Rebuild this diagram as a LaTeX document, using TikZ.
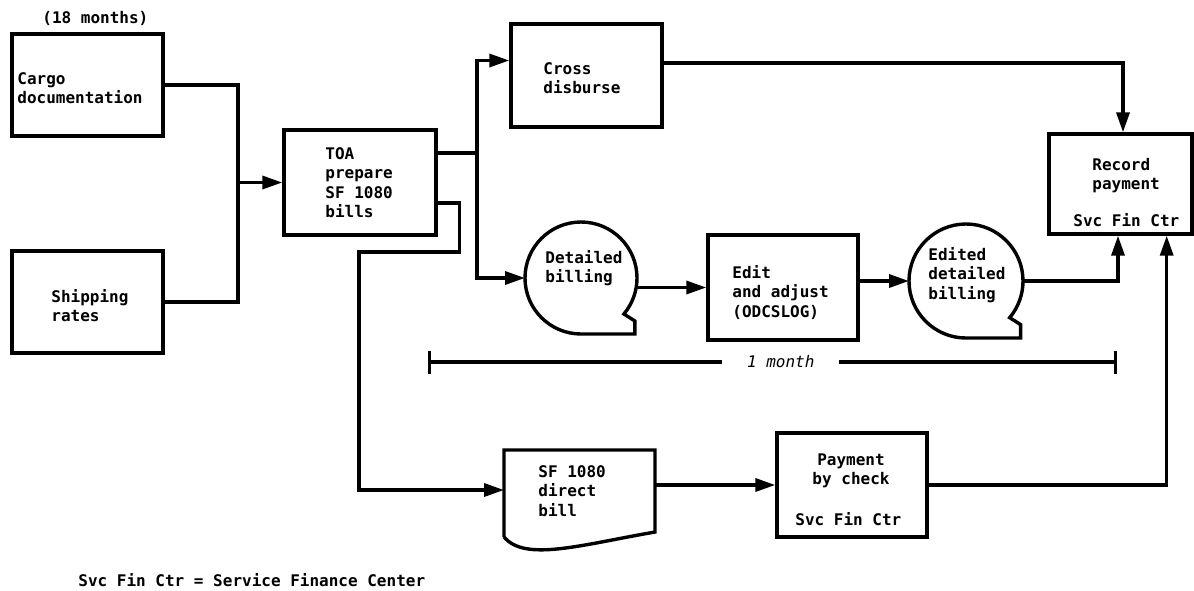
\documentclass[tikz,border=0pt]{standalone}
\usepackage{fontspec}
\newfontfamily\gothic{DejaVu Sans Mono}
\usetikzlibrary{positioning, arrows.meta, calc}

\begin{document}
\begin{tikzpicture}[x=0.5pt, y=0.5pt,
    box/.style={draw, line width=1.7pt, inner sep=0pt},
    ghost/.style={inner sep=0pt, outer sep=0pt},
    txt/.style={anchor=north west, inner sep=0pt, align=left,
      font=\gothic\bfseries\fontsize{8}{9.7}\selectfont},
    conn/.style={line width=1.7pt},
    flow/.style={conn, -{Triangle[length=10pt,width=6.5pt]}}]
  \useasboundingbox (0,0) rectangle (1194,-590);
  % Kaesten: Mitte in px, Groesse in pt (1 px = 0.5 pt)
  \node[box, minimum width=75.5pt, minimum height=51pt] (cargo)  at (87.5,-85) {};
  \node[box, minimum width=75.5pt, minimum height=51pt] (ship)   at (87.5,-302) {};
  \node[box, minimum width=76pt, minimum height=52.5pt] (toa)    at (360,-182.5) {};
  \node[box, minimum width=75.5pt, minimum height=51.5pt] (cross) at (586.5,-75.5) {};
  \node[box, minimum width=71.5pt, minimum height=50pt] (record) at (1120.5,-184) {};
  \node[box, minimum width=75pt, minimum height=52.5pt] (edit)   at (783,-287.5) {};
  \node[box, minimum width=75pt, minimum height=52pt] (pay)      at (852,-485) {};
  \node[ghost, minimum width=75.5pt, minimum height=40pt] (sfbill) at (579.5,-490) {};
  \node[ghost, circle, minimum size=56pt] (dbill) at (581,-278) {};
  \node[ghost, circle, minimum size=57pt] (ebill) at (966,-281) {};

  % Band und Formular
  \draw[conn] (dbill.south) arc[start angle=270, end angle=-40, radius=56]
    -- ++(11,-7) |- (dbill.south);
  \draw[conn] (ebill.south) arc[start angle=270, end angle=-40, radius=57]
    -- ++(11,-7) |- (ebill.south);
  \draw[conn] ([yshift=-3.5pt]sfbill.south west) -- (sfbill.north west)
    -- (sfbill.north east) -- ([yshift=-1pt]sfbill.south east)
    .. controls (580,-545) and (525,-562) .. ([yshift=-3.5pt]sfbill.south west);

  % Texte
  \node[txt] (months)    at (42,-11)   {(18 months)};
  \node[txt] (cargotxt)  at (17,-72)   {Cargo\\documentation};
  \node[txt] (shiptxt)   at (51,-289)  {Shipping\\rates};
  \node[txt] (toatxt)    at (325,-147) {TOA\\prepare\\SF 1080\\bills};
  \node[txt] (crosstxt)  at (543,-62)  {Cross\\disburse};
  \node[txt] (dbilltxt)  at (545,-250) {Detailed\\billing};
  \node[txt] (edittxt)   at (732,-265) {Edit\\and adjust\\(ODCSLOG)};
  \node[txt] (ebilltxt)  at (928,-247) {Edited\\detailed\\billing};
  \node[txt] (recordtxt) at (1092,-158) {Record\\payment};
  \node[txt] (recordsvc) at (1073,-213) {Svc Fin Ctr};
  \node[txt] (sftxt)     at (538,-465) {SF 1080\\direct\\bill};
  \node[txt, anchor=north, align=center] (paytxt) at (851,-453) {Payment\\by check};
  \node[txt] (paysvc)    at (795,-512) {Svc Fin Ctr};
  \node[txt] (legend)    at (78,-573)  {Svc Fin Ctr = Service Finance Center};

  % Verbindungen
  \coordinate (join) at (238,-182.5);
  \coordinate (fork) at (477,-153);
  \coordinate (drop) at (359,-252);
  \draw[conn] (cargo.east) -| (join);
  \draw[conn] (ship.east) -| (join);
  \draw[flow] (join) -- (toa.west);
  \draw[conn] (toa.east |- fork) -- (fork);
  \draw[flow] (fork) |- ($(cross.west)+(0,15)$);
  \draw[flow] (fork) |- (dbill.west);
  \draw[flow] ($(toa.east)+(0,-20.5)$) -- ++(22,0) |- (drop) |- (sfbill.west);
  \draw[flow] (dbill.east |- edit.west) -- (edit.west);
  \draw[flow] (edit.east |- ebill.west) -- (ebill.west);
  \draw[flow] (ebill.east) -| ([xshift=-1.25pt]record.south);
  \draw[flow] ($(cross.east)+(0,12.5)$) -| ([xshift=1.25pt]record.north);
  \draw[flow] (sfbill.east |- pay.west) -- (pay.west);
  \draw[flow] (pay.east) -| ([xshift=-13.5pt]record.south east);

  % Zeitspanne
  \coordinate (mleft) at (428,-362);
  \coordinate (mright) at (1117,-362);
  \draw[conn, {Bar[width=11.5pt]}-{Bar[width=11.5pt]}] (mleft) -- (mright)
    node[pos=0.512, fill=white, inner xsep=12.5pt, inner ysep=1pt,
      font=\gothic\itshape\fontsize{8}{9.7}\selectfont] (month) {1 month};
\end{tikzpicture}
\end{document}
